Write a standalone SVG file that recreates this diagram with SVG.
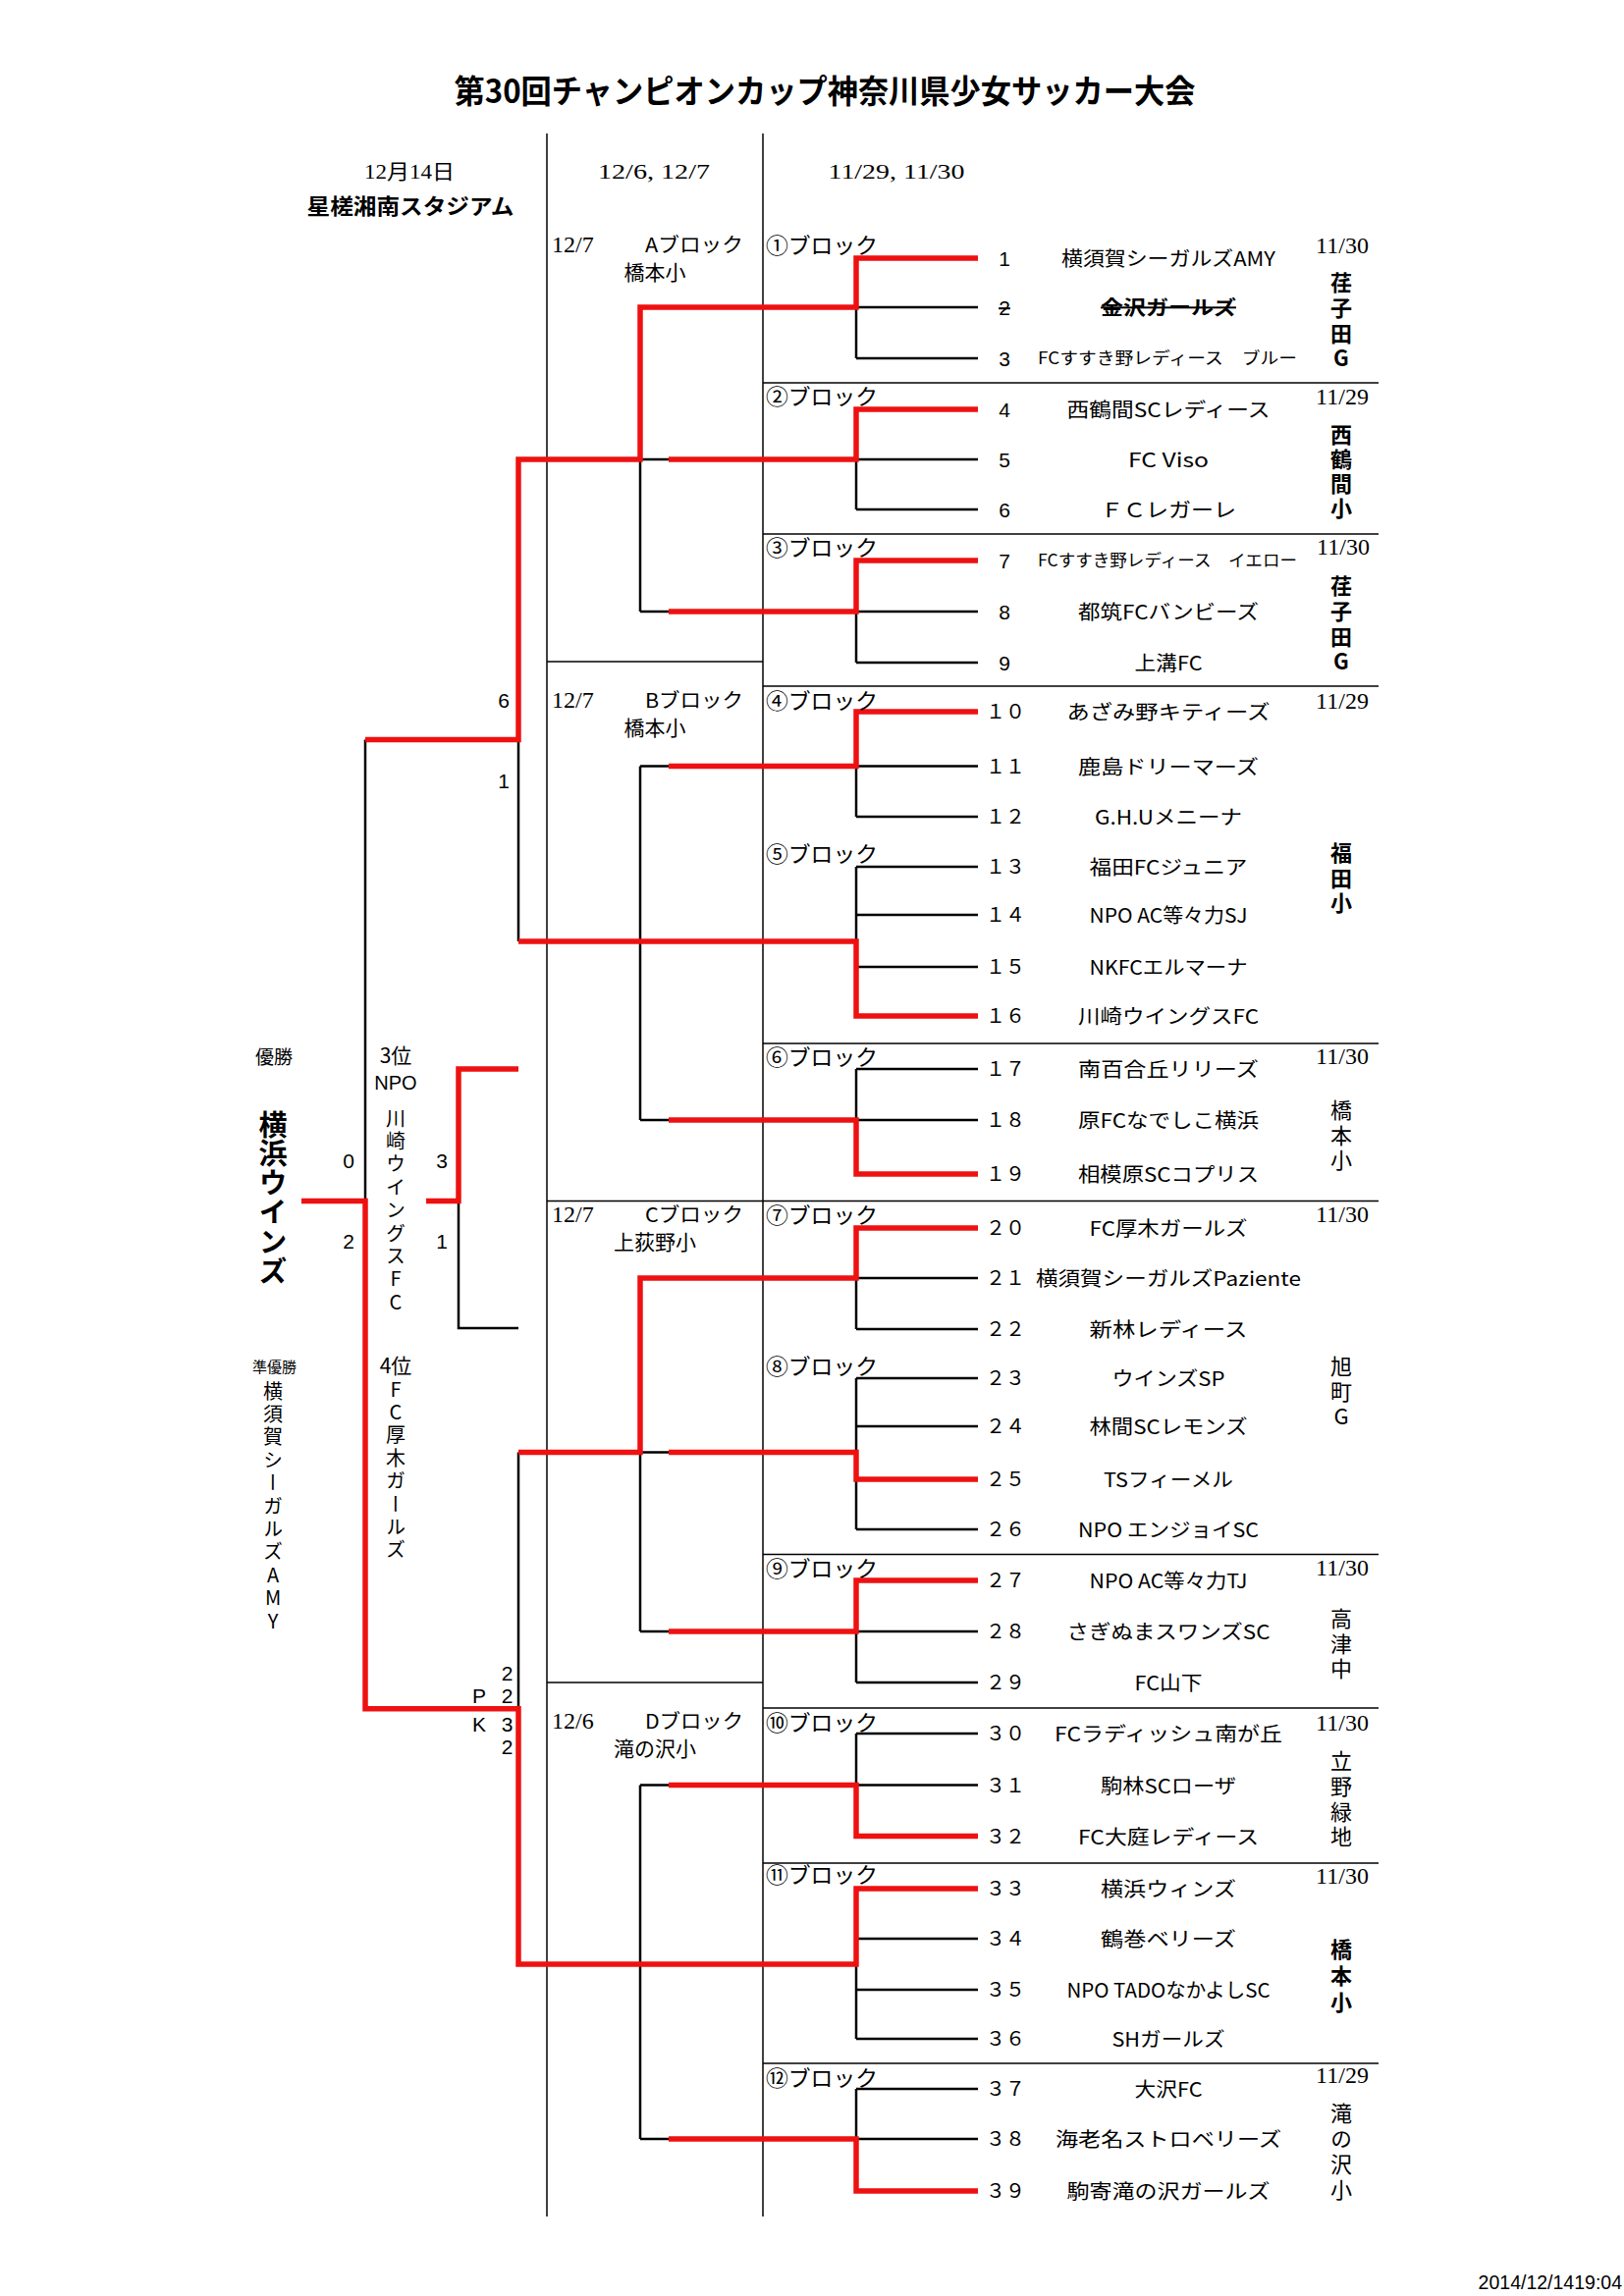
<svg xmlns="http://www.w3.org/2000/svg" width="1654" height="2339" viewBox="0 0 1654 2339">
<style>
text{fill:#000}
.t{font-family:"Noto Sans CJK JP",sans-serif}
.s{font-family:"Liberation Serif","Noto Sans CJK JP",serif}
.a{font-family:"Liberation Sans","Noto Sans CJK JP",sans-serif}
.nm{font-family:"Noto Sans CJK JP",sans-serif;font-size:20px;text-anchor:middle}
.nm.sm{font-size:17px}
.no{font-family:"Liberation Sans",sans-serif;font-size:21px;text-anchor:middle}
.nf{font-family:"Noto Sans CJK JP",sans-serif;font-size:20px;text-anchor:middle}
.bl{font-family:"Noto Sans CJK JP",sans-serif;font-size:22px}
.dt{font-family:"Liberation Serif",serif;font-size:24px;text-anchor:middle}
.v{writing-mode:vertical-rl;text-orientation:upright;font-family:"Noto Sans CJK JP",sans-serif}
.vn{font-size:22px}
.b{font-weight:bold}
.m{text-anchor:middle}
.col{stroke:#000;stroke-width:1.5;fill:none}
.blk{stroke:#000;stroke-width:2.5;fill:none}
.red{stroke:#ee1111;stroke-width:5.5;fill:none;stroke-linejoin:miter}
</style>

<g id="title">
<text class="t b" x="840" y="105" font-size="33" text-anchor="middle" textLength="755" lengthAdjust="spacingAndGlyphs">第30回チャンピオンカップ神奈川県少女サッカー大会</text>
</g>

<g id="col-headers">
<text class="s" x="417" y="182" font-size="21" text-anchor="middle" textLength="92" lengthAdjust="spacingAndGlyphs">12月14日</text>
<text class="t b" x="418" y="218" font-size="22" text-anchor="middle" textLength="211" lengthAdjust="spacingAndGlyphs">星槎湘南スタジアム</text>
<text class="s" x="666" y="182" font-size="21" text-anchor="middle" textLength="114" lengthAdjust="spacingAndGlyphs">12/6, 12/7</text>
<text class="s" x="913" y="182" font-size="21" text-anchor="middle" textLength="139" lengthAdjust="spacingAndGlyphs">11/29, 11/30</text>
</g>

<g id="connectors">
<line class="col" x1="557" y1="136" x2="557" y2="2258"/>
<line class="col" x1="777" y1="136" x2="777" y2="2258"/>
<line class="col" x1="557" y1="674" x2="777" y2="674"/>
<line class="col" x1="557" y1="1223.5" x2="1404" y2="1223.5"/>
<line class="col" x1="557" y1="1714" x2="777" y2="1714"/>
<line class="col" x1="777" y1="390" x2="1404" y2="390"/>
<line class="col" x1="777" y1="544" x2="1404" y2="544"/>
<line class="col" x1="777" y1="699" x2="1404" y2="699"/>
<line class="col" x1="777" y1="1063" x2="1404" y2="1063"/>
<line class="col" x1="777" y1="1583.5" x2="1404" y2="1583.5"/>
<line class="col" x1="777" y1="1740" x2="1404" y2="1740"/>
<line class="col" x1="777" y1="1898" x2="1404" y2="1898"/>
<line class="col" x1="777" y1="2102" x2="1404" y2="2102"/>

<g class="blk">
<path d="M872,263V365M872,417V519M872,571V675M872,725V832M872,883V1035M872,1089V1196M872,1251V1354M872,1404V1558M872,1610V1714M872,1766V1870.5M872,1924V2077M872,2128V2232"/>
<path d="M872,313H996M872,365H996M872,468H996M872,519H996M872,623H996M872,675H996"/>
<path d="M872,780.6H996M872,832H996M872,883H996M872,932H996M872,985H996M872,1089H996M872,1141H996"/>
<path d="M872,1302H996M872,1354H996M872,1404H996M872,1453H996M872,1558H996M872,1662H996M872,1714H996"/>
<path d="M872,1766H996M872,1818.5H996M872,1975H996M872,2027H996M872,2077H996M872,2128H996M872,2179H996"/>
<path d="M652,313V623M652,780.6V1141M652,1302V1662M652,1818.5V2179"/>
<path d="M652,468H681M652,623H681M652,780.6H681M652,1141H681M652,1479.5H681M652,1662H681M652,1818.5H681M652,2179H681"/>
<path d="M528,468V959M528,1479.5V2001M372,753.6V1740.7"/>
<path d="M467,1223.5V1353H528"/>
</g>

<g class="red">
<path d="M307,1223.5H372V1740.7H528V2001H872V1924H996"/>
<path d="M372,753.6H528V468H652V313H872V263H996"/>
<path d="M681,468H872V417H996"/>
<path d="M681,623H872V571H996"/>
<path d="M528,959H872V1035H996"/>
<path d="M681,780.6H872V725H996"/>
<path d="M681,1141H872V1196H996"/>
<path d="M528,1479.5H652V1302H872V1251H996"/>
<path d="M681,1479.5H872V1507H996"/>
<path d="M681,1662H872V1610H996"/>
<path d="M681,1818.5H872V1870.5H996"/>
<path d="M681,2179H872V2232H996"/>
<path d="M528,1089H467V1223.5H434"/>
</g>
</g>

<g id="group-A">
<text class="s" x="562" y="257" font-size="24">12/7</text>
<text class="t" x="657" y="257" font-size="20" textLength="100" lengthAdjust="spacingAndGlyphs">Aブロック</text>
<text class="t m" x="667" y="285" font-size="21">橋本小</text>
</g>
<g id="group-B">
<text class="s" x="562" y="721" font-size="24">12/7</text>
<text class="t" x="657" y="721" font-size="20" textLength="100" lengthAdjust="spacingAndGlyphs">Bブロック</text>
<text class="t m" x="667" y="749" font-size="21">橋本小</text>
</g>
<g id="group-C">
<text class="s" x="562" y="1245" font-size="24">12/7</text>
<text class="t" x="657" y="1245" font-size="20" textLength="100" lengthAdjust="spacingAndGlyphs">Cブロック</text>
<text class="t m" x="667" y="1273" font-size="21">上荻野小</text>
</g>
<g id="group-D">
<text class="s" x="562" y="1761" font-size="24">12/6</text>
<text class="t" x="657" y="1761" font-size="20" textLength="100" lengthAdjust="spacingAndGlyphs">Dブロック</text>
<text class="t m" x="667" y="1789" font-size="21">滝の沢小</text>
</g>

<g id="block-1"><text class="bl" x="780" y="258" textLength="114" lengthAdjust="spacingAndGlyphs">①ブロック</text><text class="dt" x="1367" y="258">11/30</text><text class="v vn b" x="1366" y="277" letter-spacing="3.7">荏子田G</text></g>
<g id="block-2"><text class="bl" x="780" y="412" textLength="114" lengthAdjust="spacingAndGlyphs">②ブロック</text><text class="dt" x="1367" y="412">11/29</text><text class="v vn b" x="1366" y="432" letter-spacing="3">西鶴間小</text></g>
<g id="block-3"><text class="bl" x="780" y="566" textLength="114" lengthAdjust="spacingAndGlyphs">③ブロック</text><text class="dt" x="1368" y="565">11/30</text><text class="v vn b" x="1366" y="586" letter-spacing="3.7">荏子田G</text></g>
<g id="block-4"><text class="bl" x="780" y="722" textLength="114" lengthAdjust="spacingAndGlyphs">④ブロック</text><text class="dt" x="1367" y="722">11/29</text><text class="v vn b" x="1366" y="858" letter-spacing="3.5">福田小</text></g>
<g id="block-5"><text class="bl" x="780" y="878" textLength="114" lengthAdjust="spacingAndGlyphs">⑤ブロック</text></g>
<g id="block-6"><text class="bl" x="780" y="1085" textLength="114" lengthAdjust="spacingAndGlyphs">⑥ブロック</text><text class="dt" x="1367" y="1084">11/30</text><text class="v vn" x="1366" y="1120" letter-spacing="3.5">橋本小</text></g>
<g id="block-7"><text class="bl" x="780" y="1246" textLength="114" lengthAdjust="spacingAndGlyphs">⑦ブロック</text><text class="dt" x="1367" y="1245">11/30</text><text class="v vn" x="1366" y="1381" letter-spacing="3.3">旭町G</text></g>
<g id="block-8"><text class="bl" x="780" y="1400" textLength="114" lengthAdjust="spacingAndGlyphs">⑧ブロック</text></g>
<g id="block-9"><text class="bl" x="780" y="1606" textLength="114" lengthAdjust="spacingAndGlyphs">⑨ブロック</text><text class="dt" x="1367" y="1605">11/30</text><text class="v vn" x="1366" y="1638" letter-spacing="3.5">高津中</text></g>
<g id="block-10"><text class="bl" x="780" y="1763" textLength="114" lengthAdjust="spacingAndGlyphs">⑩ブロック</text><text class="dt" x="1367" y="1763">11/30</text><text class="v vn" x="1366" y="1783" letter-spacing="3.7">立野緑地</text></g>
<g id="block-11"><text class="bl" x="780" y="1918" textLength="114" lengthAdjust="spacingAndGlyphs">⑪ブロック</text><text class="dt" x="1367" y="1919">11/30</text><text class="v vn b" x="1366" y="1975" letter-spacing="4.7">橋本小</text></g>
<g id="block-12"><text class="bl" x="780" y="2125" textLength="114" lengthAdjust="spacingAndGlyphs">⑫ブロック</text><text class="dt" x="1367" y="2122">11/29</text><text class="v vn" x="1366" y="2142" letter-spacing="3.8">滝の沢小</text></g>

<g id="team-1"><text class="no" x="1023" y="270.5">1</text><text class="nm" x="1190" y="271" textLength="218" lengthAdjust="spacingAndGlyphs">横須賀シーガルズAMY</text></g>
<g id="team-2"><text class="no" x="1023" y="320.5" text-decoration="line-through">2</text><text class="nm b" x="1190" y="321" textLength="138" lengthAdjust="spacingAndGlyphs" text-decoration="line-through">金沢ガールズ</text></g>
<g id="team-3"><text class="no" x="1023" y="372.5">3</text><text class="nm sm" x="1189" y="371" textLength="264" lengthAdjust="spacingAndGlyphs">FCすすき野レディース　ブルー</text></g>
<g id="team-4"><text class="no" x="1023" y="424.5">4</text><text class="nm" x="1190" y="425" textLength="207" lengthAdjust="spacingAndGlyphs">西鶴間SCレディース</text></g>
<g id="team-5"><text class="no" x="1023" y="475.5">5</text><text class="nm" x="1190" y="476" textLength="82" lengthAdjust="spacingAndGlyphs">FC Viso</text></g>
<g id="team-6"><text class="no" x="1023" y="526.5">6</text><text class="nm" x="1190" y="527" textLength="138" lengthAdjust="spacingAndGlyphs">ＦＣレガーレ</text></g>
<g id="team-7"><text class="no" x="1023" y="578.5">7</text><text class="nm sm" x="1189" y="577" textLength="264" lengthAdjust="spacingAndGlyphs">FCすすき野レディース　イエロー</text></g>
<g id="team-8"><text class="no" x="1023" y="630.5">8</text><text class="nm" x="1190" y="631" textLength="184" lengthAdjust="spacingAndGlyphs">都筑FCバンビーズ</text></g>
<g id="team-9"><text class="no" x="1023" y="682.5">9</text><text class="nm" x="1190" y="683" textLength="69" lengthAdjust="spacingAndGlyphs">上溝FC</text></g>
<g id="team-10"><text class="nf" x="1024" y="732">１０</text><text class="nm" x="1190" y="733" textLength="207" lengthAdjust="spacingAndGlyphs">あざみ野キティーズ</text></g>
<g id="team-11"><text class="nf" x="1024" y="788">１１</text><text class="nm" x="1190" y="788.6" textLength="184" lengthAdjust="spacingAndGlyphs">鹿島ドリーマーズ</text></g>
<g id="team-12"><text class="nf" x="1024" y="839">１２</text><text class="nm" x="1190" y="840" textLength="150" lengthAdjust="spacingAndGlyphs">G.H.Uメニーナ</text></g>
<g id="team-13"><text class="nf" x="1024" y="890">１３</text><text class="nm" x="1190" y="891" textLength="161" lengthAdjust="spacingAndGlyphs">福田FCジュニア</text></g>
<g id="team-14"><text class="nf" x="1024" y="939">１４</text><text class="nm" x="1190" y="940" textLength="161" lengthAdjust="spacingAndGlyphs">NPO AC等々力SJ</text></g>
<g id="team-15"><text class="nf" x="1024" y="992">１５</text><text class="nm" x="1190" y="993" textLength="161" lengthAdjust="spacingAndGlyphs">NKFCエルマーナ</text></g>
<g id="team-16"><text class="nf" x="1024" y="1042">１６</text><text class="nm" x="1190" y="1043" textLength="184" lengthAdjust="spacingAndGlyphs">川崎ウイングスFC</text></g>
<g id="team-17"><text class="nf" x="1024" y="1096">１７</text><text class="nm" x="1190" y="1097" textLength="184" lengthAdjust="spacingAndGlyphs">南百合丘リリーズ</text></g>
<g id="team-18"><text class="nf" x="1024" y="1148">１８</text><text class="nm" x="1190" y="1149" textLength="184" lengthAdjust="spacingAndGlyphs">原FCなでしこ横浜</text></g>
<g id="team-19"><text class="nf" x="1024" y="1203">１９</text><text class="nm" x="1190" y="1204" textLength="184" lengthAdjust="spacingAndGlyphs">相模原SCコプリス</text></g>
<g id="team-20"><text class="nf" x="1024" y="1258">２０</text><text class="nm" x="1190" y="1259" textLength="161" lengthAdjust="spacingAndGlyphs">FC厚木ガールズ</text></g>
<g id="team-21"><text class="nf" x="1024" y="1309">２１</text><text class="nm" x="1190" y="1310" textLength="270" lengthAdjust="spacingAndGlyphs">横須賀シーガルズPaziente</text></g>
<g id="team-22"><text class="nf" x="1024" y="1361">２２</text><text class="nm" x="1190" y="1362" textLength="161" lengthAdjust="spacingAndGlyphs">新林レディース</text></g>
<g id="team-23"><text class="nf" x="1024" y="1411">２３</text><text class="nm" x="1190" y="1412" textLength="115" lengthAdjust="spacingAndGlyphs">ウインズSP</text></g>
<g id="team-24"><text class="nf" x="1024" y="1460">２４</text><text class="nm" x="1190" y="1461" textLength="161" lengthAdjust="spacingAndGlyphs">林間SCレモンズ</text></g>
<g id="team-25"><text class="nf" x="1024" y="1514">２５</text><text class="nm" x="1190" y="1515" textLength="132" lengthAdjust="spacingAndGlyphs">TSフィーメル</text></g>
<g id="team-26"><text class="nf" x="1024" y="1565">２６</text><text class="nm" x="1190" y="1566" textLength="184" lengthAdjust="spacingAndGlyphs">NPO エンジョイSC</text></g>
<g id="team-27"><text class="nf" x="1024" y="1617">２７</text><text class="nm" x="1190" y="1618" textLength="161" lengthAdjust="spacingAndGlyphs">NPO AC等々力TJ</text></g>
<g id="team-28"><text class="nf" x="1024" y="1669">２８</text><text class="nm" x="1190" y="1670" textLength="207" lengthAdjust="spacingAndGlyphs">さぎぬまスワンズSC</text></g>
<g id="team-29"><text class="nf" x="1024" y="1721">２９</text><text class="nm" x="1190" y="1722" textLength="69" lengthAdjust="spacingAndGlyphs">FC山下</text></g>
<g id="team-30"><text class="nf" x="1024" y="1773">３０</text><text class="nm" x="1190" y="1774" textLength="232" lengthAdjust="spacingAndGlyphs">FCラディッシュ南が丘</text></g>
<g id="team-31"><text class="nf" x="1024" y="1825.5">３１</text><text class="nm" x="1190" y="1826.5" textLength="138" lengthAdjust="spacingAndGlyphs">駒林SCローザ</text></g>
<g id="team-32"><text class="nf" x="1024" y="1877.5">３２</text><text class="nm" x="1190" y="1878.5" textLength="184" lengthAdjust="spacingAndGlyphs">FC大庭レディース</text></g>
<g id="team-33"><text class="nf" x="1024" y="1931">３３</text><text class="nm" x="1190" y="1932" textLength="138" lengthAdjust="spacingAndGlyphs">横浜ウィンズ</text></g>
<g id="team-34"><text class="nf" x="1024" y="1982">３４</text><text class="nm" x="1190" y="1983" textLength="138" lengthAdjust="spacingAndGlyphs">鶴巻ベリーズ</text></g>
<g id="team-35"><text class="nf" x="1024" y="2034">３５</text><text class="nm" x="1190" y="2035" textLength="207" lengthAdjust="spacingAndGlyphs">NPO TADOなかよしSC</text></g>
<g id="team-36"><text class="nf" x="1024" y="2084">３６</text><text class="nm" x="1190" y="2085" textLength="115" lengthAdjust="spacingAndGlyphs">SHガールズ</text></g>
<g id="team-37"><text class="nf" x="1024" y="2135">３７</text><text class="nm" x="1190" y="2136" textLength="69" lengthAdjust="spacingAndGlyphs">大沢FC</text></g>
<g id="team-38"><text class="nf" x="1024" y="2186">３８</text><text class="nm" x="1190" y="2187" textLength="230" lengthAdjust="spacingAndGlyphs">海老名ストロベリーズ</text></g>
<g id="team-39"><text class="nf" x="1024" y="2239">３９</text><text class="nm" x="1190" y="2240" textLength="207" lengthAdjust="spacingAndGlyphs">駒寄滝の沢ガールズ</text></g>

<g id="semi-top-scores">
<text class="a m" x="513" y="721" font-size="21">6</text>
<text class="a m" x="513" y="803" font-size="21">1</text>
</g>
<g id="champion">
<text class="t m" x="279" y="1084" font-size="19">優勝</text>
<text class="v b" x="278" y="1131" font-size="29" letter-spacing="0.8">横浜ウインズ</text>
</g>
<g id="final-scores">
<text class="a m" x="355" y="1190" font-size="21">0</text>
<text class="a m" x="355" y="1272" font-size="21">2</text>
</g>
<g id="third">
<text class="t m" x="403" y="1083" font-size="21">3位</text>
<text class="a m" x="403" y="1110" font-size="20">NPO</text>
<text class="v" x="403" y="1129" font-size="20" letter-spacing="3.4">川崎ウイングスFC</text>
<text class="a m" x="450" y="1190" font-size="21">3</text>
<text class="a m" x="450" y="1272" font-size="21">1</text>
</g>
<g id="runner-up">
<text class="t m" x="279.5" y="1398" font-size="15">準優勝</text>
<text class="v" x="278" y="1407" font-size="20" letter-spacing="3.4">横須賀シーガルズAMY</text>
</g>
<g id="fourth">
<text class="t m" x="403" y="1399" font-size="21">4位</text>
<text class="v" x="403" y="1405" font-size="20" letter-spacing="3.4">FC厚木ガールズ</text>
</g>
<g id="semi-bottom-scores">
<text class="a m" x="516.7" y="1712" font-size="21">2</text>
<text class="a m" x="488" y="1735" font-size="21">P</text>
<text class="a m" x="516.7" y="1735" font-size="21">2</text>
<text class="a m" x="488" y="1764" font-size="21">K</text>
<text class="a m" x="516.7" y="1764" font-size="21">3</text>
<text class="a m" x="516.7" y="1787" font-size="21">2</text>
</g>

<g id="timestamp">
<text class="a" x="1652" y="2332" font-size="19.5" text-anchor="end">2014/12/1419:04</text>
</g>
</svg>
